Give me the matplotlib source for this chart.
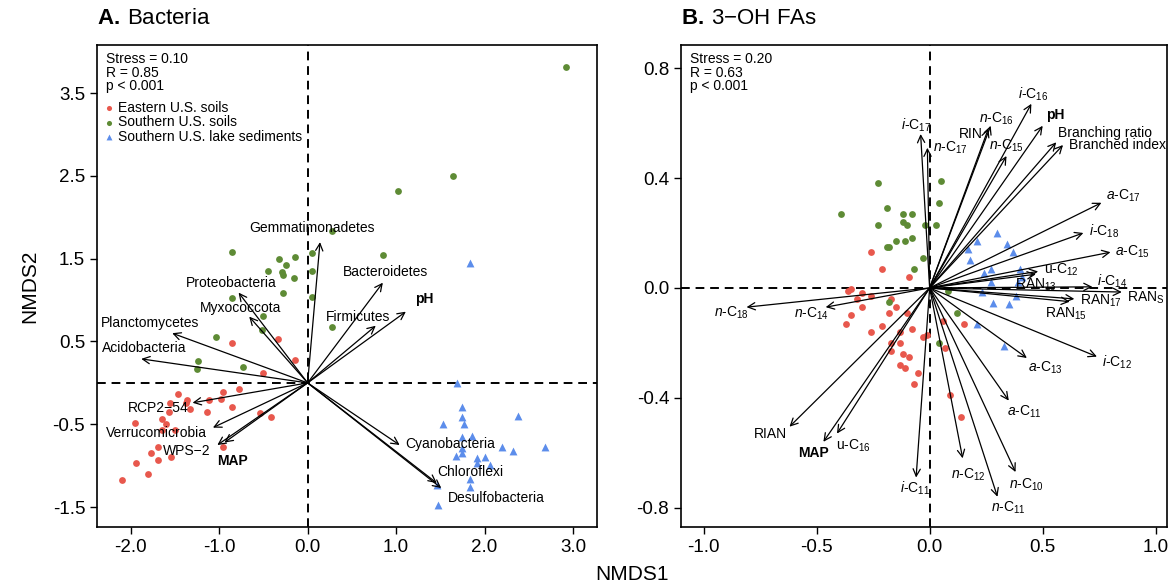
import matplotlib
matplotlib.use("Agg")
import matplotlib.pyplot as plt
import numpy as np

plt.rcParams["font.family"] = ["Liberation Sans", "DejaVu Sans"]
plt.rcParams["mathtext.fontset"] = "custom"
plt.rcParams["mathtext.rm"] = "Liberation Sans"
plt.rcParams["mathtext.it"] = "Liberation Sans:italic"
plt.rcParams["mathtext.bf"] = "Liberation Sans:bold"

# ---------------- Panel A: bacteria NMDS ----------------
a_east_x = [-0.85, -0.34, -0.14, -0.50, -0.77, -0.96, -1.47, -1.36, -1.11, -0.98, -1.56, -1.37,
            -1.33, -0.86, -1.14, -1.57, -1.65, -1.95, -1.60, -1.65, -1.50, -0.54, -0.41, -1.69,
            -1.77, -1.54, -1.69, -1.94, -1.80, -2.10, -0.96]
a_east_y = [0.48, 0.53, 0.28, 0.12, -0.07, -0.11, -0.14, -0.21, -0.21, -0.19, -0.24, -0.24,
            -0.32, -0.29, -0.35, -0.35, -0.44, -0.48, -0.50, -0.57, -0.57, -0.36, -0.41, -0.77,
            -0.85, -0.89, -0.93, -0.97, -1.10, -1.17, -0.77]
a_south_x = [2.92, 1.64, 1.02, 0.28, 0.85, 0.05, 0.05, 0.05, 0.28, -0.85, -0.32, -0.24, -0.14,
             -0.45, -0.29, -0.28, -0.15, -0.28, -0.85, -0.50, -0.51, -1.03, -1.24, -1.25, -0.73]
a_south_y = [3.82, 2.50, 2.32, 1.84, 1.55, 1.57, 1.35, 1.04, 0.68, 1.58, 1.50, 1.42, 1.52,
             1.35, 1.34, 1.30, 1.27, 1.09, 1.03, 0.81, 0.64, 0.56, 0.27, 0.17, 0.19]
a_lake_x = [1.84, 1.69, 1.74, 1.74, 1.53, 1.77, 2.38, 1.75, 1.86, 1.74, 1.68, 1.75, 1.91, 2.00,
            2.20, 2.32, 2.68, 1.91, 2.06, 1.83, 1.84, 1.46, 1.47]
a_lake_y = [1.45, 0.00, -0.29, -0.41, -0.50, -0.50, -0.40, -0.65, -0.64, -0.79, -0.88, -0.85,
            -0.91, -0.89, -0.77, -0.82, -0.77, -0.97, -0.99, -1.16, -1.26, -1.23, -1.47]

a_vec_names = ["Gemmatimonadetes", "Bacteroidetes", "pH", "Firmicutes", "Cyanobacteria",
               "Chloroflexi", "Desulfobacteria", "Proteobacteria", "Myxococcota",
               "Planctomycetes", "Acidobacteria", "RCP2\u221254", "Verrucomicrobia",
               "WPS\u22122", "MAP"]
a_vec_x = [0.14, 0.85, 1.11, 0.77, 1.04, 1.46, 1.51, -0.78, -0.66, -1.53, -1.88, -1.30, -1.07,
           -1.02, -0.94]
a_vec_y = [1.70, 1.21, 0.86, 0.69, -0.75, -1.21, -1.27, 1.09, 0.80, 0.60, 0.29, -0.24, -0.54,
           -0.75, -0.72]
# label offsets from arrow tips (points) and alignment
a_lab_off = [(-6, 10), (2, 8), (13, 9), (-13, 6), (4, 1), (24, 8), (40, -7), (-5, 7), (-6, 6),
             (-16, 7), (2, 8), (-25, -4), (-41, -4), (-22, -4), (6, -13)]
a_lab_ha = ["center", "center", "center", "center", "left", "center", "center", "center",
            "center", "center", "center", "center", "center", "center", "center"]
a_bold = {"pH", "MAP"}

# ---------------- Panel B: 3-OH FAs NMDS ----------------
b_east_x = [-0.26, -0.21, -0.09, -0.35, -0.30, -0.26, -0.17, -0.32, -0.30, -0.15, -0.18, -0.10,
            -0.35, -0.37, -0.21, -0.08, -0.26, -0.17, -0.13, -0.01, -0.12, 0.06, 0.15, -0.36,
            -0.03, -0.13, -0.17, -0.13, -0.11, -0.05, -0.07, 0.07, 0.09, 0.14, -0.09]
b_east_y = [0.13, 0.07, 0.04, -0.005, -0.02, -0.03, -0.04, -0.04, -0.07, -0.07, -0.09, -0.09,
            -0.10, -0.13, -0.14, -0.15, -0.16, -0.20, -0.16, -0.17, -0.24, -0.12, -0.13, -0.01,
            -0.18, -0.20, -0.23, -0.28, -0.29, -0.31, -0.35, -0.22, -0.39, -0.47, -0.25]
b_south_x = [-0.23, 0.05, -0.39, -0.19, -0.12, -0.08, -0.12, -0.10, -0.23, -0.02, 0.03, 0.04,
             -0.08, -0.11, -0.15, -0.18, -0.19, -0.03, -0.07, -0.18, 0.12, 0.08, 0.04]
b_south_y = [0.38, 0.39, 0.27, 0.29, 0.27, 0.27, 0.24, 0.23, 0.23, 0.23, 0.23, 0.31, 0.18,
             0.17, 0.17, 0.15, 0.15, 0.11, 0.07, -0.05, -0.09, -0.01, -0.20]
b_lake_x = [0.17, 0.18, 0.34, 0.37, 0.30, 0.21, 0.27, 0.24, 0.40, 0.41, 0.27, 0.39, 0.23, 0.38,
            0.28, 0.35, 0.21, 0.33]
b_lake_y = [0.14, 0.10, 0.16, 0.13, 0.20, 0.17, 0.07, 0.055, 0.07, 0.04, 0.02, 0.02, -0.015,
            -0.03, -0.055, -0.06, -0.13, -0.21]

b_vec_names = [r"$\mathit{i}$-C$_{17}$", r"$\mathit{n}$-C$_{17}$", "RIN", r"$\mathit{n}$-C$_{16}$",
               r"$\mathit{n}$-C$_{15}$", r"$\mathit{i}$-C$_{16}$", "pH", "Branching ratio",
               "Branched index", r"$\mathit{a}$-C$_{17}$", r"$\mathit{i}$-C$_{18}$",
               r"$\mathit{a}$-C$_{15}$", r"u-C$_{12}$", r"RAN$_{13}$", r"$\mathit{i}$-C$_{14}$",
               r"RAN$_{\mathrm{S}}$", r"RAN$_{17}$", r"RAN$_{15}$", r"$\mathit{i}$-C$_{12}$",
               r"$\mathit{a}$-C$_{13}$", r"$\mathit{a}$-C$_{11}$", r"$\mathit{n}$-C$_{10}$",
               r"$\mathit{n}$-C$_{11}$", r"$\mathit{n}$-C$_{12}$", r"$\mathit{i}$-C$_{11}$",
               r"u-C$_{16}$", "MAP", "RIAN", r"$\mathit{n}$-C$_{14}$", r"$\mathit{n}$-C$_{18}$"]
b_vec_x = [-0.04, -0.01, 0.26, 0.27, 0.34, 0.45, 0.50, 0.56, 0.59, 0.76, 0.68, 0.80, 0.48,
           0.47, 0.72, 0.85, 0.64, 0.62, 0.74, 0.43, 0.35, 0.38, 0.30, 0.146, -0.06, -0.41,
           -0.47, -0.62, -0.46, -0.81]
b_vec_y = [0.56, 0.51, 0.58, 0.59, 0.48, 0.67, 0.59, 0.53, 0.52, 0.31, 0.20, 0.13, 0.06,
           0.05, 0.004, -0.015, -0.04, -0.05, -0.25, -0.255, -0.41, -0.67, -0.76, -0.62, -0.69,
           -0.53, -0.56, -0.505, -0.07, -0.07]
b_lab_off = [(-3, 6), (4, 0), (-13, -4), (4, 5), (0, 7), (1, 7), (9, 8), (1, 7), (4, 0),
             (3, 5), (4, 1), (3, 0), (4, 1), (-15, -8), (3, 4), (4, -4), (4, -1), (-18, -9),
             (4, -4), (1, -7), (-1, -8), (8, -9), (8, -8), (4, -12), (-1, -8), (12, -9),
             (-7, -8), (-14, -5), (-10, -5), (-11, -4)]
b_lab_ha = ["center", "left", "center", "center", "center", "center", "center", "left", "left",
            "left", "left", "left", "left", "left", "left", "left", "left", "left", "left",
            "left", "left", "center", "center", "center", "center", "center", "center",
            "center", "center", "center"]
b_bold = {"pH", "MAP"}

RED = "#E8584D"
GREEN = "#5E8B35"
BLUE = "#5C8DEB"


def draw_points(ax, ex, ey, sx, sy, lx, ly):
    ax.scatter(ex, ey, s=24, c=RED, marker="o", linewidths=0, zorder=2,
               label="Eastern U.S. soils")
    ax.scatter(sx, sy, s=24, c=GREEN, marker="o", linewidths=0, zorder=2,
               label="Southern U.S. soils")
    ax.scatter(lx, ly, s=32, c=BLUE, marker="^", linewidths=0, zorder=2,
               label="Southern U.S. lake sediments")


def draw_vectors(ax, names, vx, vy, offs, has, bold, fs):
    for n, x, y, off, ha in zip(names, vx, vy, offs, has):
        ax.annotate("", xy=(x, y), xytext=(0, 0),
                    arrowprops=dict(arrowstyle="->", color="black", lw=0.9,
                                    mutation_scale=13, shrinkA=0, shrinkB=0), zorder=3)
        ax.annotate(n, xy=(x, y), xytext=off, textcoords="offset points", ha=ha, va="center",
                    fontsize=fs, fontweight="bold" if n in bold else "normal", zorder=4)


def style_axes(ax):
    ax.axhline(0, color="black", lw=1.4, ls=(0, (4.5, 3)), zorder=1)
    ax.axvline(0, color="black", lw=1.4, ls=(0, (4.5, 3)), zorder=1)
    for sp in ax.spines.values():
        sp.set_linewidth(1.2)
    ax.tick_params(direction="out", length=5, width=1, labelsize=13.5)


fig = plt.figure(figsize=(11.76, 5.85), dpi=100)
axA = fig.add_axes([97 / 1176, 58 / 585, 500 / 1176, 482 / 585])
axB = fig.add_axes([681 / 1176, 58 / 585, 486 / 1176, 482 / 585])

# panel A
draw_points(axA, a_east_x, a_east_y, a_south_x, a_south_y, a_lake_x, a_lake_y)
draw_vectors(axA, a_vec_names, a_vec_x, a_vec_y, a_lab_off, a_lab_ha, a_bold, 10)
style_axes(axA)
axA.set_xlim(-2.38, 3.27)
axA.set_ylim(-1.74, 4.08)
axA.set_xticks(np.arange(-2, 3.1, 1.0))
axA.set_yticks(np.arange(-1.5, 3.6, 1.0))
axA.xaxis.set_major_formatter(matplotlib.ticker.FormatStrFormatter("%.1f"))
axA.yaxis.set_major_formatter(matplotlib.ticker.FormatStrFormatter("%.1f"))
axA.text(0.018, 0.985, "Stress = 0.10\nR = 0.85\np < 0.001", transform=axA.transAxes,
         ha="left", va="top", fontsize=10, linespacing=0.95)
axA.legend(loc="upper left", bbox_to_anchor=(-0.002, 0.905), frameon=False, fontsize=10,
           handlelength=0.5, handletextpad=0.35, labelspacing=0.05, borderpad=0.2,
           markerscale=0.75)

# panel B
draw_points(axB, b_east_x, b_east_y, b_south_x, b_south_y, b_lake_x, b_lake_y)
draw_vectors(axB, b_vec_names, b_vec_x, b_vec_y, b_lab_off, b_lab_ha, b_bold, 10)
style_axes(axB)
axB.set_xlim(-1.10, 1.05)
axB.set_ylim(-0.87, 0.884)
axB.set_xticks([-1.0, -0.5, 0.0, 0.5, 1.0])
axB.set_yticks([-0.8, -0.4, 0.0, 0.4, 0.8])
axB.xaxis.set_major_formatter(matplotlib.ticker.FormatStrFormatter("%.1f"))
axB.yaxis.set_major_formatter(matplotlib.ticker.FormatStrFormatter("%.1f"))
axB.text(0.018, 0.985, "Stress = 0.20\nR = 0.63\np < 0.001", transform=axB.transAxes,
         ha="left", va="top", fontsize=10, linespacing=0.95)

fig.text(97 / 1176, 1 - 18 / 585, r"$\mathbf{A.}\:$" + "Bacteria", fontsize=16, ha="left",
         va="center")
fig.text(681 / 1176, 1 - 18 / 585, r"$\mathbf{B.}\:$" + "3\u2212OH FAs", fontsize=16,
         ha="left", va="center")
fig.text(30 / 1176, 1 - 286 / 585, "NMDS2", rotation=90, fontsize=15, ha="center", va="center")
fig.text(632 / 1176, 1 - 575 / 585, "NMDS1", fontsize=15, ha="center", va="center")

fig.savefig("out.png", dpi=100)
